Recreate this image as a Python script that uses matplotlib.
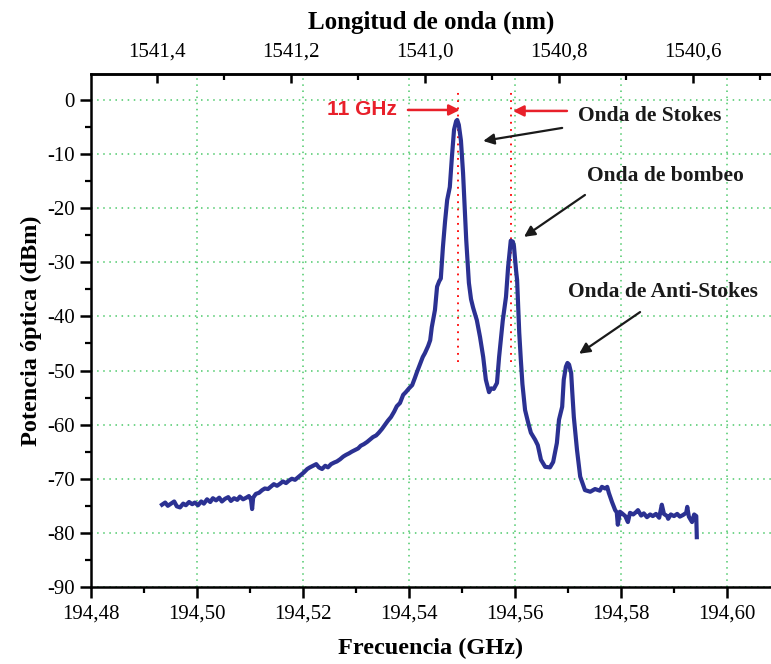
import matplotlib
matplotlib.use('Agg')
import matplotlib.pyplot as plt
from matplotlib.ticker import MultipleLocator, FuncFormatter, FixedLocator

# spectrum: frequency (THz, labelled GHz) and power (dBm)
freq = [194.4934, 194.4940, 194.4945, 194.4951, 194.4957, 194.4962, 194.4968, 194.4974,
        194.4979, 194.4985, 194.4991, 194.4996, 194.5002, 194.5008, 194.5013, 194.5019,
        194.5025, 194.5030, 194.5036, 194.5042, 194.5047, 194.5053, 194.5059, 194.5064,
        194.5070, 194.5076, 194.5081, 194.5087, 194.5093, 194.5098, 194.5102, 194.5104,
        194.5106, 194.5111, 194.5117, 194.5123, 194.5128, 194.5134, 194.5140, 194.5145,
        194.5151, 194.5157, 194.5162, 194.5168, 194.5174, 194.5179, 194.5185, 194.5191,
        194.5196, 194.5202, 194.5208, 194.5213, 194.5219, 194.5225, 194.5230, 194.5236,
        194.5242, 194.5247, 194.5253, 194.5259, 194.5264, 194.5270, 194.5276, 194.5281,
        194.5287, 194.5292, 194.5298, 194.5304, 194.5309, 194.5315, 194.5321, 194.5326,
        194.5332, 194.5338, 194.5343, 194.5349, 194.5355, 194.5360, 194.5366, 194.5372,
        194.5377, 194.5383, 194.5389, 194.5394, 194.5400, 194.5406, 194.5411, 194.5415,
        194.5421, 194.5426, 194.5430, 194.5436, 194.5440, 194.5443, 194.5449, 194.5453,
        194.5457, 194.5460, 194.5464, 194.5468, 194.5472, 194.5477, 194.5481, 194.5485,
        194.5489, 194.5491, 194.5494, 194.5498, 194.5502, 194.5508, 194.5513, 194.5517,
        194.5521, 194.5528, 194.5534, 194.5540, 194.5545, 194.5551, 194.5555, 194.5560,
        194.5566, 194.5570, 194.5574, 194.5577, 194.5583, 194.5587, 194.5591, 194.5592,
        194.5596, 194.5598, 194.5602, 194.5604, 194.5606, 194.5608, 194.5611, 194.5614,
        194.5619, 194.5625, 194.5630, 194.5638, 194.5643, 194.5649, 194.5657, 194.5666,
        194.5672, 194.5679, 194.5683, 194.5689, 194.5692, 194.5696, 194.5699, 194.5702,
        194.5706, 194.5708, 194.5711, 194.5717, 194.5723, 194.5732, 194.5742, 194.5751,
        194.5760, 194.5764, 194.5770, 194.5774, 194.5777, 194.5783, 194.5789, 194.5792,
        194.5794, 194.5798, 194.5802, 194.5808, 194.5813, 194.5817, 194.5823, 194.5828,
        194.5832, 194.5838, 194.5843, 194.5849, 194.5855, 194.5860, 194.5866, 194.5872,
        194.5877, 194.5881, 194.5887, 194.5889, 194.5894, 194.5900, 194.5906, 194.5911,
        194.5917, 194.5923, 194.5925, 194.5928, 194.5934, 194.5938, 194.5942, 194.5943]
power = [-74.8, -74.4, -75.0, -74.6, -74.2, -75.1, -75.3, -74.6,
         -74.9, -74.3, -74.7, -74.4, -74.9, -74.2, -74.6, -73.8,
         -74.3, -73.6, -74.0, -73.5, -74.2, -73.7, -73.4, -74.1,
         -73.6, -73.9, -73.3, -73.8, -73.5, -73.2, -73.9, -75.6,
         -73.5, -72.8, -72.6, -72.1, -71.8, -71.9, -71.4, -71.0,
         -71.3, -70.9, -70.5, -70.8, -70.3, -70.0, -70.2, -69.7,
         -69.3, -68.8, -68.2, -67.9, -67.6, -67.3, -67.9, -68.2,
         -67.6, -67.9, -67.3, -67.0, -66.8, -66.4, -65.9, -65.6,
         -65.3, -65.0, -64.7, -64.4, -63.9, -63.6, -63.2, -62.8,
         -62.3, -62.0, -61.5, -60.8, -60.0, -59.3, -58.6, -57.6,
         -56.6, -56.0, -54.5, -54.0, -53.3, -52.7, -51.4, -50.3,
         -48.8, -47.5, -46.8, -45.5, -44.4, -42.0, -38.8, -34.5,
         -33.5, -33.0, -27.2, -22.5, -18.5, -16.1, -10.5, -5.5,
         -3.9, -3.7, -4.6, -7.5, -13.5, -25.9, -33.8, -36.8,
         -38.4, -40.7, -43.8, -47.5, -51.7, -54.0, -53.3, -53.4,
         -52.3, -47.5, -43.5, -40.7, -36.4, -30.9, -27.0, -26.0,
         -26.2, -27.0, -31.5, -33.3, -38.0, -43.0, -48.0, -52.5,
         -57.3, -59.7, -61.5, -62.8, -63.8, -66.5, -67.8, -67.9,
         -66.9, -63.4, -59.1, -56.7, -51.7, -49.3, -48.6, -48.9,
         -50.5, -53.9, -58.6, -64.7, -69.6, -72.1, -72.4, -71.9,
         -72.2, -71.5, -71.8, -71.5, -72.6, -74.3, -75.8, -76.2,
         -78.5, -76.1, -76.4, -76.9, -78.0, -76.3, -76.6, -76.2,
         -75.8, -76.8, -76.4, -77.1, -76.6, -76.9, -76.5, -77.2,
         -74.8, -76.5, -76.9, -77.4, -76.6, -76.9, -76.5, -77.0,
         -76.7, -76.3, -75.2, -77.0, -78.0, -76.6, -76.9, -80.8]

peak_marks = [194.5492, 194.5592]
wl_ticks = [1541.4, 1541.2, 1541.0, 1540.8, 1540.6]
C = 299790.8  # nm*THz, fitted to where the top ticks sit

serif = 'Liberation Serif'
fig = plt.figure(figsize=(7.71, 6.64), dpi=100)
ax = fig.add_axes([0.118, 0.116, 0.882, 0.7726])

ax.plot(freq, power, color='#2b3192', lw=3.0, zorder=3)
ax.vlines(peak_marks, -48.4, 2.2, colors='red', linestyles=(0, (1, 3)), lw=1.3, zorder=2)

ax.set_xlim(194.48, 194.6083)
ax.set_ylim(-90, 4.8)
ax.xaxis.set_major_locator(MultipleLocator(0.02))
ax.xaxis.set_minor_locator(MultipleLocator(0.01))
ax.yaxis.set_major_locator(MultipleLocator(10))
ax.yaxis.set_minor_locator(MultipleLocator(5))
ax.xaxis.set_major_formatter(FuncFormatter(lambda v, p: f'{v:.2f}'.replace('.', ',')))
ax.yaxis.set_major_formatter(FuncFormatter(lambda v, p: f'{int(round(v))}'))
ax.grid(True, which='major', color='#4cc96a', linestyle=(0, (1, 3)), lw=1.1)

ax.spines['right'].set_visible(False)
for s in ['left', 'bottom', 'top']:
    ax.spines[s].set_linewidth(1.8)
ax.tick_params(which='major', direction='out', length=8, width=1.8, labelsize=15)
ax.tick_params(axis='x', which='major', pad=5)
ax.tick_params(which='minor', direction='out', length=4.5, width=1.6)
for lab in ax.get_xticklabels() + ax.get_yticklabels():
    lab.set_fontfamily(serif)

ax.set_xlabel('Frecuencia (GHz)', fontfamily=serif, fontweight='bold', fontsize=17.5, labelpad=10)
ax.set_ylabel('Potencia óptica (dBm)', fontfamily=serif, fontweight='bold', fontsize=17.5, labelpad=4)

top = ax.secondary_xaxis('top', functions=(lambda f: C / f, lambda l: C / l))
top.xaxis.set_major_locator(FixedLocator(wl_ticks))
top.xaxis.set_minor_locator(MultipleLocator(0.1))
top.xaxis.set_major_formatter(FuncFormatter(lambda v, p: f'{v:.1f}'.replace('.', ',')))
top.tick_params(which='major', direction='in', length=6.5, width=1.8, labelsize=15, pad=9)
top.tick_params(which='minor', direction='in', length=4, width=1.6)
top.spines['top'].set_linewidth(1.8)
for lab in top.get_xticklabels():
    lab.set_fontfamily(serif)
top.set_xlabel('Longitud de onda (nm)', fontfamily=serif, fontweight='bold', fontsize=18, labelpad=10)

# 11 GHz spacing arrows
ax.text(194.5311, -1.85, '11 GHz', color='#e8202a', fontfamily='Liberation Sans',
        fontweight='bold', fontsize=15, ha='center', va='center')
red_arrow = dict(arrowstyle='-|>', color='#e8202a', lw=1.8, mutation_scale=16, shrinkA=0, shrinkB=0)
ax.annotate('', xy=(194.5496, -1.85), xytext=(194.5398, -1.85), arrowprops=red_arrow)
ax.annotate('', xy=(194.5596, -2.03), xytext=(194.5698, -2.03), arrowprops=red_arrow)

black_arrow = dict(arrowstyle='-|>', color='#1a1a1a', lw=1.6, mutation_scale=16, shrinkA=0, shrinkB=0)
labels = [('Onda de Stokes', (194.5855, -2.96), (194.5540, -7.58), (194.5689, -5.17)),
          ('Onda de bombeo', (194.5883, -14.0), (194.5617, -25.3), (194.5732, -17.56)),
          ('Onda de Anti-Stokes', (194.5879, -35.5), (194.5721, -46.9), (194.5836, -39.2))]
for txt, pos, head, tail in labels:
    ax.text(pos[0], pos[1], txt, fontfamily=serif, fontweight='bold', fontsize=15.5,
            ha='center', va='center', color='#1a1a1a')
    ax.annotate('', xy=head, xytext=tail, arrowprops=black_arrow)

fig.savefig('out.png', dpi=100)
